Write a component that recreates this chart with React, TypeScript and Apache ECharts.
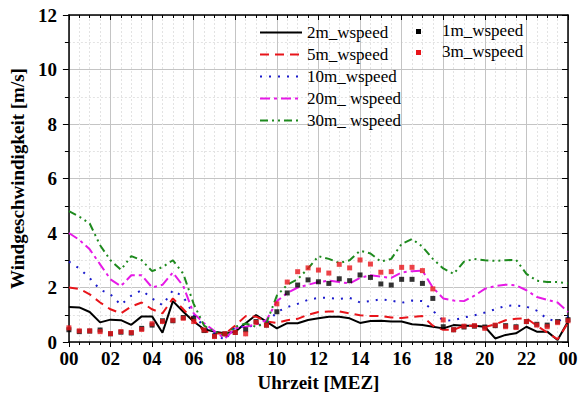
import React, { useEffect, useRef } from "react";
import * as echarts from "echarts";

const HOURS = [
  0, 0.5, 1, 1.5, 2, 2.5, 3, 3.5, 4, 4.5, 5, 5.5, 6, 6.5, 7, 7.5, 8, 8.5, 9, 9.5,
  10, 10.5, 11, 11.5, 12, 12.5, 13, 13.5, 14, 14.5, 15, 15.5, 16, 16.5, 17, 17.5,
  18, 18.5, 19, 19.5, 20, 20.5, 21, 21.5, 22, 22.5, 23, 23.5, 24,
];

const X_LABELS = ["00", "02", "04", "06", "08", "10", "12", "14", "16", "18", "20", "22", "00"];
const Y_LABELS = ["0", "2", "4", "6", "8", "10", "12"];

const WS_2M = [
  1.28, 1.27, 1.1, 0.72, 0.82, 0.8, 0.63, 0.94, 0.94, 0.34, 1.5, 1.11, 0.75, 0.47, 0.38, 0.32,
  0.38, 0.69, 0.99, 0.75, 0.5, 0.69, 0.69, 0.81, 0.87, 0.93, 0.93, 0.87, 0.7, 0.77, 0.78, 0.75,
  0.75, 0.65, 0.62, 0.56, 0.5, 0.62, 0.6, 0.6, 0.56, 0.13, 0.26, 0.32, 0.56, 0.38, 0.38, 0.07, 0.75,
];
const WS_5M = [
  2.0, 1.95, 1.75, 1.45, 1.2, 1.05, 1.3, 1.45, 1.2, 1.05, 1.6, 1.2, 0.8, 0.4, 0.32, 0.3,
  0.6, 0.95, 0.93, 0.75, 0.7, 0.8, 0.85, 1.0, 1.1, 1.12, 1.12, 1.05, 0.98, 0.95, 0.95, 0.9,
  0.88, 0.92, 0.95, 0.6, 0.45, 0.45, 0.6, 0.6, 0.55, 0.65, 0.8, 0.85, 0.87, 0.6, 0.35, 0.1, 0.7,
];
const WS_10M = [
  2.95, 2.7, 2.35, 1.92, 1.75, 1.36, 1.7, 1.9, 1.6, 1.35, 1.9, 1.66, 1.0, 0.56, 0.32, 0.07,
  0.55, 0.56, 0.6, 0.68, 1.1, 1.28, 1.4, 1.55, 1.62, 1.62, 1.58, 1.62, 1.45, 1.5, 1.57, 1.52,
  1.44, 1.52, 1.5, 1.15, 0.78, 0.8, 0.9, 0.98, 1.08, 1.2, 1.33, 1.34, 1.3, 1.15, 0.85, 0.75, 0.95,
];
const WS_20M = [
  4.0, 3.75, 3.4, 2.85, 2.3, 2.05, 2.45, 2.45, 2.0, 2.1, 2.55, 2.05, 1.05, 0.69, 0.4, 0.13,
  0.5, 0.56, 0.65, 0.8, 1.5, 1.8, 2.0, 2.1, 2.2, 2.25, 2.2, 2.15, 2.35, 2.45, 2.4, 2.35,
  2.55, 2.6, 2.62, 2.0, 1.6, 1.52, 1.5, 1.7, 1.95, 2.05, 2.1, 2.08, 1.9, 1.65, 1.55, 1.45, 1.1,
];
const WS_30M = [
  4.8, 4.6, 4.35, 3.55, 3.0, 2.65, 3.15, 3.0, 2.6, 2.75, 3.0, 2.5, 1.4, 0.6, 0.38, 0.25,
  0.56, 0.68, 0.56, 0.7, 1.7, 2.1, 2.3, 2.7, 3.15, 3.05, 2.9, 3.0, 3.35, 3.25, 2.95, 3.05,
  3.6, 3.78, 3.5, 3.05, 2.7, 2.5, 2.95, 3.05, 3.0, 2.98, 3.0, 3.02, 2.5, 2.25, 2.2, 2.2, 2.15,
];
const WS_1M = [
  0.45, 0.38, 0.4, 0.44, 0.3, 0.36, 0.33, 0.5, 0.62, 0.78, 0.78, 0.9, 0.87, 0.42, 0.22, 0.3,
  0.35, 0.45, 0.75, 0.62, 1.11, 1.8, 2.09, 2.28, 2.21, 2.15, 2.32, 2.25, 2.46, 2.37, 2.13, 2.09,
  2.3, 2.3, 2.15, 1.6, 0.56, 0.45, 0.55, 0.58, 0.55, 0.6, 0.6, 0.56, 0.75, 0.65, 0.62, 0.75, 0.82,
];
const WS_3M = [
  0.52, 0.41, 0.41, 0.38, 0.31, 0.38, 0.35, 0.46, 0.67, 0.75, 0.8, 0.87, 0.75, 0.44, 0.2, 0.3,
  0.35, 0.3, 0.72, 0.62, 1.4, 2.2, 2.58, 2.72, 2.64, 2.53, 2.85, 2.72, 3.01, 2.86, 2.56, 2.58,
  2.74, 2.74, 2.62, 1.95, 0.81, 0.45, 0.58, 0.6, 0.5, 0.62, 0.56, 0.53, 0.75, 0.62, 0.56, 0.71, 0.78,
];

const FONT = "'Liberation Serif', 'DejaVu Serif', serif";

const pairs = (vals: number[]) => HOURS.map((h, i) => [h, vals[i]]);

export default function App() {
  const ref = useRef<HTMLDivElement>(null);
  useEffect(() => {
    if (!ref.current) return;
    const chart = echarts.init(ref.current, undefined, { renderer: "svg" });
    const lineSeries = (name: string, vals: number[], color: string, type: any) => ({
      name,
      type: "line",
      data: pairs(vals),
      showSymbol: false,
      symbol: "none",
      lineStyle: { color, width: 2, type },
      itemStyle: { color },
      z: 3,
    });
    const scatterSeries = (name: string, vals: number[], color: string) => ({
      name,
      type: "scatter",
      data: pairs(vals),
      symbol: "rect",
      symbolSize: [5, 5],
      itemStyle: { color },
      z: 4,
    });
    const axisLineStyle = { color: "#000", width: 1.5 };
    const legendText = { fontFamily: FONT, fontSize: 17, fill: "#000" };
    const option: any = {
      animation: false,
      backgroundColor: "#ffffff",
      textStyle: { fontFamily: FONT },
      grid: { left: 68, right: 19, top: 15, bottom: 72 },
      legend: [
        {
          data: ["2m_wspeed", "5m_wspeed", "10m_wspeed", "20m_ wspeed", "30m_ wspeed"],
          orient: "vertical",
          left: 254,
          top: 19,
          itemWidth: 42,
          itemHeight: 14,
          itemGap: 5,
          itemStyle: { opacity: 0 },
          textStyle: { fontFamily: FONT, fontSize: 17, color: "#000" },
        },
      ],
      graphic: [
        { type: "rect", left: 416, top: 29, shape: { width: 5, height: 5 }, style: { fill: "#000" }, z: 10 },
        { type: "text", left: 442, top: 22, style: { text: "1m_wspeed", ...legendText }, z: 10 },
        { type: "rect", left: 416, top: 50, shape: { width: 5, height: 5 }, style: { fill: "#e8141a" }, z: 10 },
        { type: "text", left: 442, top: 43, style: { text: "3m_wspeed", ...legendText }, z: 10 },
      ],
      xAxis: [
        {
          type: "value",
          min: 0,
          max: 24,
          interval: 2,
          position: "bottom",
          axisLine: { show: true, onZero: false, lineStyle: axisLineStyle },
          axisTick: { show: true, inside: false, length: 5, lineStyle: { color: "#000", width: 1 } },
          minorTick: { show: true, splitNumber: 4, length: 3, lineStyle: { color: "#000", width: 1 } },
          splitLine: { show: true, lineStyle: { color: "#c4c4c4", width: 1 } },
          minorSplitLine: { show: true, lineStyle: { color: "#e3e3e3", width: 1, type: [2, 2] } },
          axisLabel: {
            formatter: (v: number) => X_LABELS[Math.round(v / 2)],
            fontFamily: FONT,
            fontWeight: "bold",
            fontSize: 19,
            color: "#000",
            margin: 7,
          },
          name: "Uhrzeit [MEZ]",
          nameLocation: "middle",
          nameGap: 31,
          nameTextStyle: { fontFamily: FONT, fontWeight: "bold", fontSize: 19, color: "#000" },
        },
        {
          type: "value",
          min: 0,
          max: 24,
          interval: 2,
          position: "top",
          axisLine: { show: true, onZero: false, lineStyle: axisLineStyle },
          axisTick: { show: true, inside: true, length: 5, lineStyle: { color: "#000", width: 1 } },
          minorTick: { show: true, splitNumber: 4, length: 3, lineStyle: { color: "#000", width: 1 } },
          splitLine: { show: false },
          axisLabel: { show: false },
        },
      ],
      yAxis: [
        {
          type: "value",
          min: 0,
          max: 12,
          interval: 2,
          position: "left",
          axisLine: { show: true, onZero: false, lineStyle: axisLineStyle },
          axisTick: { show: true, inside: false, length: 6, lineStyle: { color: "#000", width: 1 } },
          minorTick: { show: true, splitNumber: 2, length: 4, lineStyle: { color: "#000", width: 1 } },
          splitLine: { show: true, lineStyle: { color: "#c4c4c4", width: 1 } },
          minorSplitLine: { show: true, lineStyle: { color: "#e3e3e3", width: 1, type: [2, 2] } },
          axisLabel: {
            formatter: (v: number) => Y_LABELS[Math.round(v / 2)],
            fontFamily: FONT,
            fontWeight: "bold",
            fontSize: 19,
            color: "#000",
            margin: 12,
          },
          name: "Windgeschwindigkeit [m/s]",
          nameLocation: "middle",
          nameGap: 33,
          nameTextStyle: { fontFamily: FONT, fontWeight: "bold", fontSize: 19, color: "#000" },
        },
        {
          type: "value",
          min: 0,
          max: 12,
          interval: 2,
          position: "right",
          axisLine: { show: true, onZero: false, lineStyle: axisLineStyle },
          axisTick: { show: true, inside: true, length: 6, lineStyle: { color: "#000", width: 1 } },
          minorTick: { show: true, splitNumber: 2, length: 4, lineStyle: { color: "#000", width: 1 } },
          splitLine: { show: false },
          axisLabel: { show: false },
        },
      ],
      series: [
        lineSeries("2m_wspeed", WS_2M, "#000000", "solid"),
        lineSeries("5m_wspeed", WS_5M, "#e8141a", [9, 6]),
        lineSeries("10m_wspeed", WS_10M, "#1a1acc", [2, 7]),
        lineSeries("20m_ wspeed", WS_20M, "#e619e6", [10, 4, 3, 4]),
        lineSeries("30m_ wspeed", WS_30M, "#1e8a1e", [8, 4, 2, 4, 2, 4]),
        scatterSeries("1m_wspeed", WS_1M, "#000000"),
        scatterSeries("3m_wspeed", WS_3M, "#e8141a"),
      ],
    };
    chart.setOption(option);
    return () => chart.dispose();
  }, []);
  return (
    <div
      ref={ref}
      style={{ position: "fixed", left: 0, top: 0, width: 587, height: 414, background: "#fff" }}
    />
  );
}
